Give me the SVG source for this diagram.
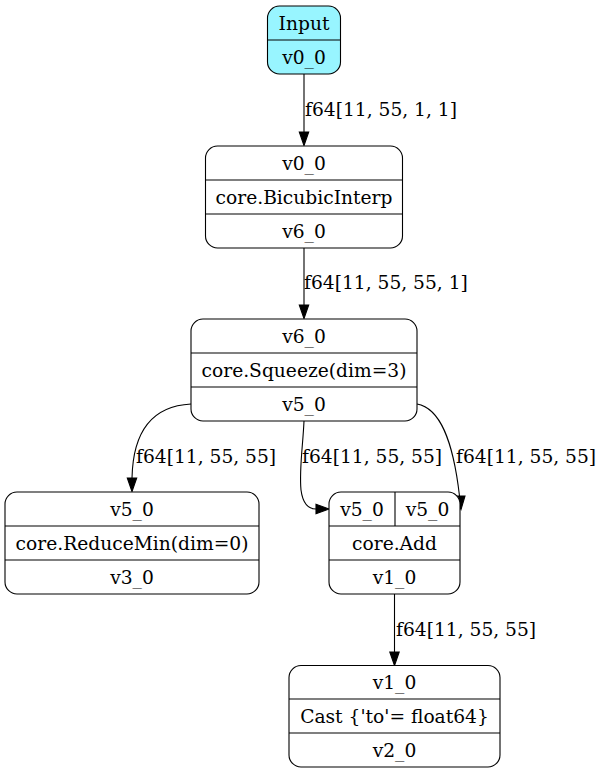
<svg xmlns="http://www.w3.org/2000/svg" width="602" height="774" viewBox="0 0 602 774">
  <style>
    text { font-family: "DejaVu Serif", "Liberation Serif", serif; font-size: 18.67px; fill: #000; }
    .c { text-anchor: middle; }
    .box { fill: #fff; stroke: #000; stroke-width: 1.1; }
    .in { fill: #98f5ff; }
    .sep { stroke: #000; stroke-width: 1.1; fill: none; }
    .edge { fill: none; stroke: #000; stroke-width: 1.1; }
    .head { fill: #000; stroke: #000; stroke-width: 1.1; }
  </style>
  <rect width="602" height="774" fill="#fff"/>

  <!-- connectors -->
  <g id="edges">
    <path class="edge" d="M304,74 L304,132"/>
    <polygon class="head" points="299.3,132 308.7,132 304,145.5"/>
    <text x="305" y="116">f64[11, 55, 1, 1]</text>

    <path class="edge" d="M304,248 L304,305"/>
    <polygon class="head" points="299.3,305 308.7,305 304,318.5"/>
    <text x="304" y="289">f64[11, 55, 55, 1]</text>

    <path class="edge" d="M191,404 C152,406 133,432 132,478"/>
    <polygon class="head" points="127.3,478 136.7,478 132,491.5"/>
    <text x="136" y="463">f64[11, 55, 55]</text>

    <path class="edge" d="M304,421 C303,445 299,470 301,490 C303,505 310,509 316,509"/>
    <polygon class="head" points="316,504.3 316,513.7 329,509"/>
    <text x="302" y="463">f64[11, 55, 55]</text>

    <path class="edge" d="M417,404 C440,408 453,440 459.5,496"/>
    <polygon class="head" points="455,496 465,496 461,509.5"/>
    <text x="456" y="463">f64[11, 55, 55]</text>

    <path class="edge" d="M394.5,594 L394.5,652"/>
    <polygon class="head" points="389.8,652 399.2,652 394.5,665.5"/>
    <text x="396" y="636">f64[11, 55, 55]</text>
  </g>

  <!-- nodes -->
  <g id="input">
    <rect class="box in" x="267.5" y="6" width="73" height="68" rx="12"/>
    <line class="sep" x1="267.5" y1="40" x2="340.5" y2="40"/>
    <text class="c" x="304" y="29.5">Input</text>
    <text class="c" x="304" y="63.5">v0_0</text>
  </g>

  <g id="bicubic">
    <rect class="box" x="205.5" y="146" width="197" height="102" rx="12"/>
    <line class="sep" x1="205.5" y1="180" x2="402.5" y2="180"/>
    <line class="sep" x1="205.5" y1="214" x2="402.5" y2="214"/>
    <text class="c" x="304" y="169.5">v0_0</text>
    <text class="c" x="304" y="203.5">core.BicubicInterp</text>
    <text class="c" x="304" y="237.5">v6_0</text>
  </g>

  <g id="squeeze">
    <rect class="box" x="191" y="319" width="226" height="102" rx="12"/>
    <line class="sep" x1="191" y1="353" x2="417" y2="353"/>
    <line class="sep" x1="191" y1="387" x2="417" y2="387"/>
    <text class="c" x="304" y="342.5">v6_0</text>
    <text class="c" x="304" y="376.5">core.Squeeze(dim=3)</text>
    <text class="c" x="304" y="410.5">v5_0</text>
  </g>

  <g id="reducemin">
    <rect class="box" x="5" y="492" width="254" height="102" rx="12"/>
    <line class="sep" x1="5" y1="526" x2="259" y2="526"/>
    <line class="sep" x1="5" y1="560" x2="259" y2="560"/>
    <text class="c" x="132" y="515.5">v5_0</text>
    <text class="c" x="132" y="549.5">core.ReduceMin(dim=0)</text>
    <text class="c" x="132" y="583.5">v3_0</text>
  </g>

  <g id="add">
    <rect class="box" x="329" y="492" width="131" height="102" rx="12"/>
    <line class="sep" x1="329" y1="526" x2="460" y2="526"/>
    <line class="sep" x1="329" y1="560" x2="460" y2="560"/>
    <line class="sep" x1="395" y1="492" x2="395" y2="526"/>
    <text class="c" x="362" y="515.5">v5_0</text>
    <text class="c" x="427.5" y="515.5">v5_0</text>
    <text class="c" x="394.5" y="549.5">core.Add</text>
    <text class="c" x="394.5" y="583.5">v1_0</text>
  </g>

  <g id="cast">
    <rect class="box" x="289" y="665.5" width="211" height="101.5" rx="12"/>
    <line class="sep" x1="289" y1="699" x2="500" y2="699"/>
    <line class="sep" x1="289" y1="733" x2="500" y2="733"/>
    <text class="c" x="394.5" y="688.5">v1_0</text>
    <text class="c" x="394.5" y="722.5">Cast {'to'= float64}</text>
    <text class="c" x="394.5" y="756.5">v2_0</text>
  </g>
</svg>
